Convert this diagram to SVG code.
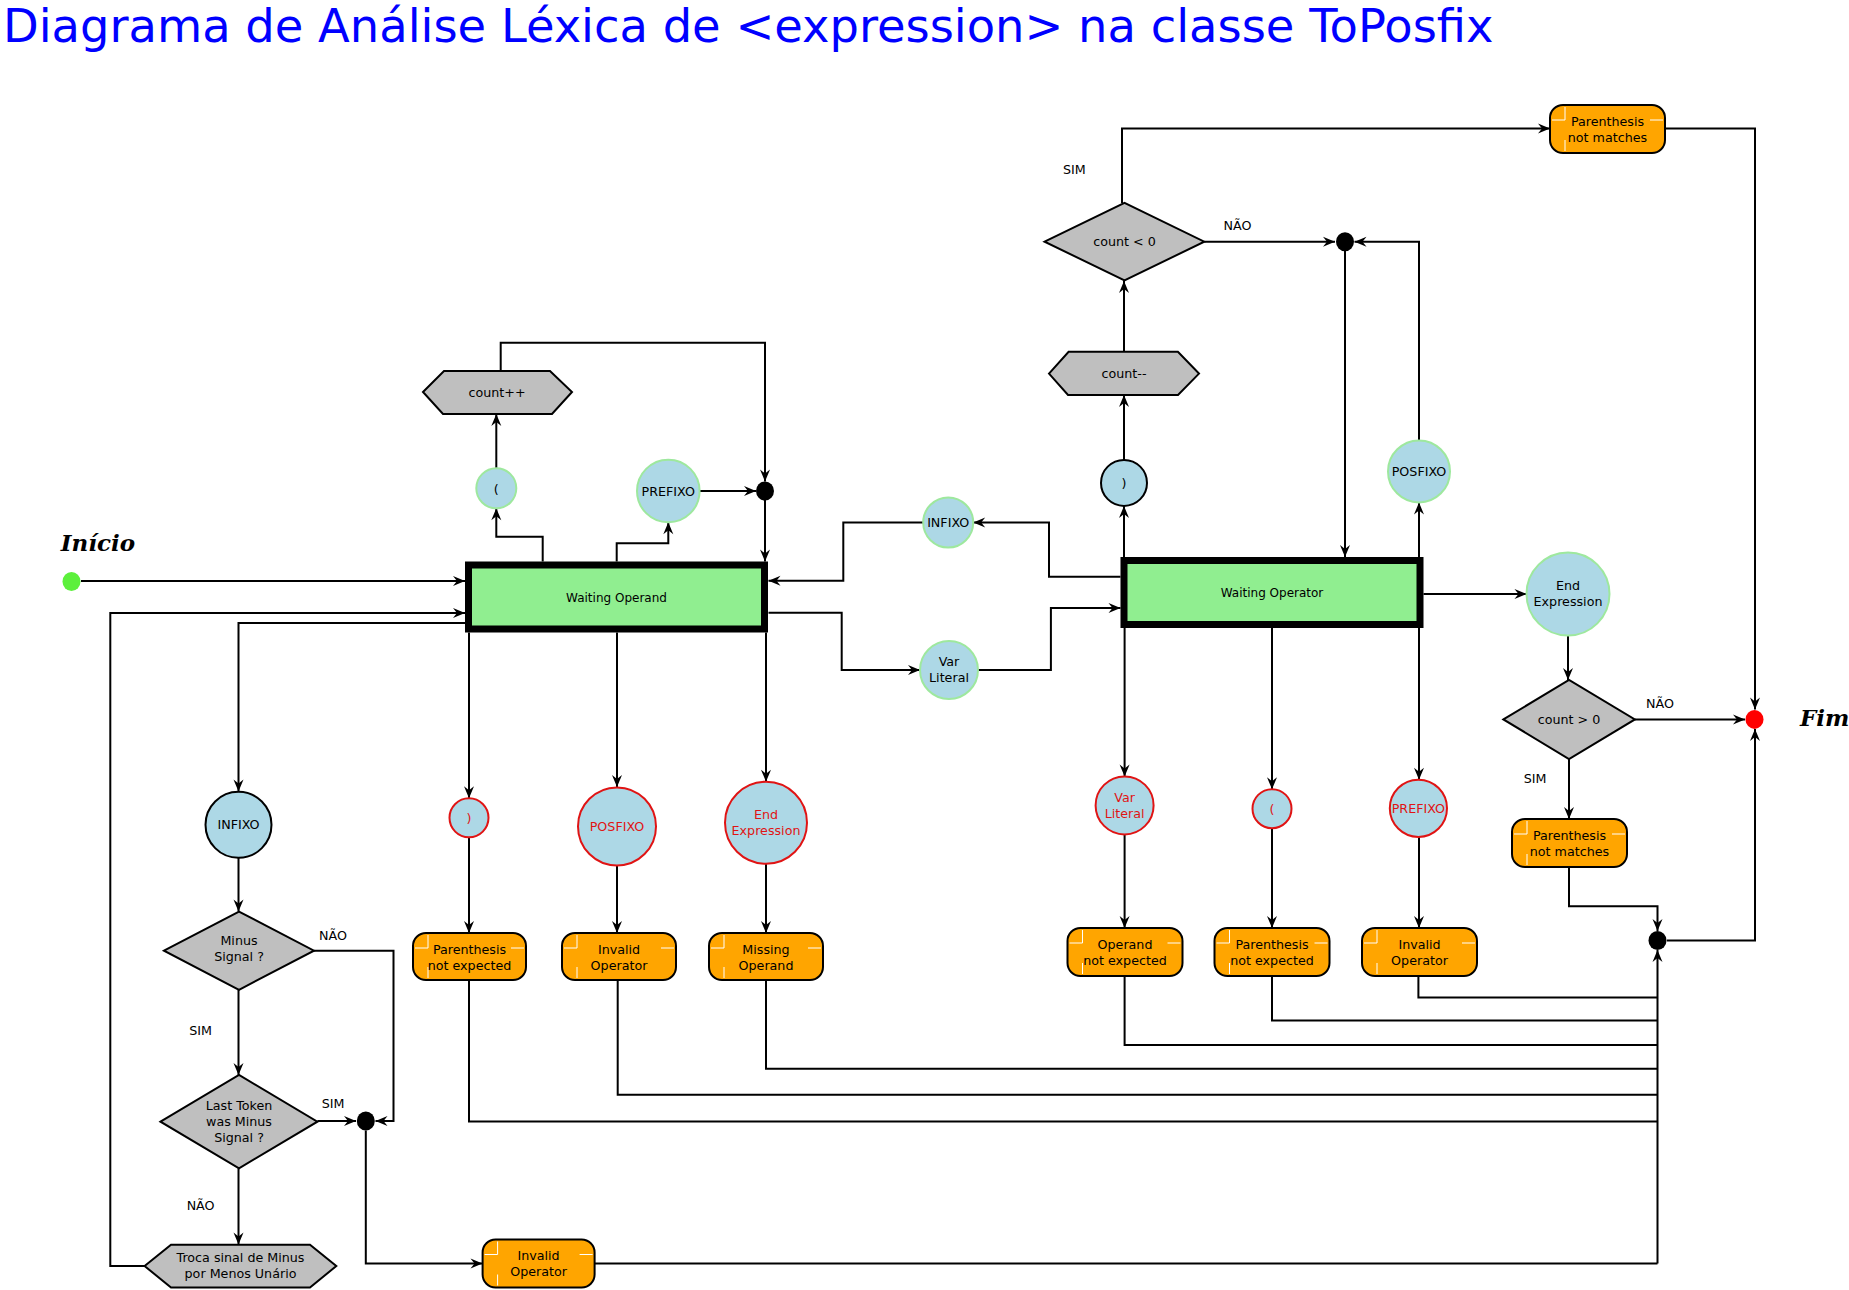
<svg xmlns="http://www.w3.org/2000/svg" xmlns:xlink="http://www.w3.org/1999/xlink" width="1849" height="1290" viewBox="0 0 1849 1290">
<defs>
<marker id="ah" markerUnits="userSpaceOnUse" markerWidth="14" markerHeight="12" refX="12" refY="5" orient="auto" overflow="visible">
<path d="M0,0 L12,5 L0,10 L4,5 z" fill="#000"/>
</marker>
<style>
.c{fill:none;stroke:#000;stroke-width:2;marker-end:url(#ah)}
.f{fill:none;stroke:#000;stroke-width:2}
.t{font-family:"DejaVu Sans","Liberation Sans",sans-serif;font-size:12.7px;fill:#000;text-anchor:middle}
.tr{fill:#e01414}
.ts{font-family:"DejaVu Sans","Liberation Sans",sans-serif;font-size:12px;fill:#000;text-anchor:middle}
.st{fill:#90ee90;stroke:#000;stroke-width:7}
.cg{fill:#add8e6;stroke:#9ee89e;stroke-width:2}
.cr{fill:#add8e6;stroke:#e01414;stroke-width:2}
.cb{fill:#add8e6;stroke:#000;stroke-width:2}
.gr{fill:#bfbfbf;stroke:#000;stroke-width:2}
.or{fill:#ffa500;stroke:#000;stroke-width:2}
.dk{fill:none;stroke:#fff;stroke-width:1}
.lb{font-family:"DejaVu Serif","Liberation Serif",serif;font-size:23px;font-weight:bold;font-style:italic;fill:#000}
</style>
</defs>
<rect width="1849" height="1290" fill="#fff"/>
<text x="3" y="42" font-family="DejaVu Sans, Liberation Sans, sans-serif" font-size="46.4" fill="#0000ff">Diagrama de Análise Léxica de &lt;expression&gt; na classe ToPosfix</text>

<g id="connectors">
<polyline class="c" points="81,581 465,581"/>
<polyline class="c" points="144.6,1266 110.3,1266 110.3,613 465,613"/>
<polyline class="c" points="465,623 238.5,623 238.5,791.5"/>
<polyline class="c" points="238.5,858 238.5,911.5"/>
<polyline class="c" points="238.5,990 238.5,1075"/>
<polyline class="c" points="238.5,1168.3 238.5,1244.5"/>
<polyline class="c" points="314,950.7 393.5,950.7 393.5,1121 375.5,1121"/>
<polyline class="c" points="317.4,1121 356,1121"/>
<polyline class="c" points="365.8,1130.5 365.8,1263.4 482.5,1263.4"/>
<polyline class="f" points="594.7,1263.4 1657.5,1263.4"/>
<polyline class="c" points="1657.5,1263.4 1657.5,950"/>
<polyline class="c" points="469,632.5 469,798.3"/>
<polyline class="c" points="469,837.3 469,933"/>
<polyline class="c" points="617,632.5 617,787"/>
<polyline class="c" points="617,865.5 617,933"/>
<polyline class="c" points="766,632.5 766,781.7"/>
<polyline class="c" points="766,863.7 766,933"/>
<polyline class="f" points="469,980 469,1121.4 1657.5,1121.4"/>
<polyline class="f" points="617.7,980 617.7,1094.7 1657.5,1094.7"/>
<polyline class="f" points="766,980 766,1068.7 1657.5,1068.7"/>
<polyline class="c" points="542.7,561.5 542.7,536.7 496.3,536.7 496.3,508.3"/>
<polyline class="c" points="496.3,468.3 496.3,414"/>
<polyline class="c" points="500.7,371 500.7,342.7 765,342.7 765,481.5"/>
<polyline class="c" points="616.7,561.5 616.7,543.3 668.3,543.3 668.3,522.3"/>
<polyline class="c" points="699.6,491 756,491"/>
<polyline class="c" points="765,500 765,561.5"/>
<polyline class="c" points="1120.5,576.8 1049,576.8 1049,522.5 973.2,522.5"/>
<polyline class="c" points="923.2,522.5 843.3,522.5 843.3,580.7 768.5,580.7"/>
<polyline class="c" points="768.5,612.7 841.7,612.7 841.7,670 920,670"/>
<polyline class="c" points="978,670 1050.9,670 1050.9,607.9 1120.5,607.9"/>
<polyline class="c" points="1124,557 1124,506"/>
<polyline class="c" points="1124,460 1124,395"/>
<polyline class="c" points="1124,351.8 1124,281"/>
<polyline class="c" points="1122,203 1122,128.6 1550,128.6"/>
<polyline class="c" points="1204.3,241.8 1335,241.8"/>
<polyline class="c" points="1419,440 1419,241.8 1354.5,241.8"/>
<polyline class="c" points="1345,251 1345,557"/>
<polyline class="c" points="1419,557 1419,502.5"/>
<polyline class="c" points="1665,128.6 1755,128.6 1755,709.5"/>
<polyline class="c" points="1423.5,594 1526.5,594"/>
<polyline class="c" points="1568,635.5 1568,680"/>
<polyline class="c" points="1635,719.4 1745,719.4"/>
<polyline class="c" points="1569,759 1569,819"/>
<polyline class="c" points="1569,867 1569,906.2 1657.5,906.2 1657.5,931"/>
<polyline class="c" points="1667,940.5 1755,940.5 1755,729"/>
<polyline class="c" points="1124.6,628 1124.6,776.4"/>
<polyline class="c" points="1124.6,834.4 1124.6,928"/>
<polyline class="c" points="1272,628 1272,789.2"/>
<polyline class="c" points="1272,828.2 1272,928"/>
<polyline class="c" points="1419,628 1419,779.7"/>
<polyline class="c" points="1419,837 1419,928"/>
<polyline class="f" points="1124.6,976 1124.6,1044.9 1657.5,1044.9"/>
<polyline class="f" points="1272,976 1272,1020.6 1657.5,1020.6"/>
<polyline class="f" points="1418.4,976 1418.4,997.6 1657.5,997.6"/>
</g>

<g id="inicio">
<text class="lb" x="60.8" y="551">Início</text>
<ellipse cx="71.5" cy="581.5" rx="9" ry="9.5" fill="#5cf03c"/>
</g>
<g id="fim">
<ellipse cx="1754.5" cy="719.4" rx="9" ry="9.5" fill="#ff0000"/>
<text class="lb" x="1800" y="726">Fim</text>
</g>

<g id="waiting-operand">
<rect class="st" x="468.5" y="565" width="296" height="64"/>
<text class="ts" x="616.5" y="601.5">Waiting Operand</text>
</g>
<g id="waiting-operator">
<rect class="st" x="1124" y="560.5" width="296" height="64"/>
<text class="ts" x="1272" y="597">Waiting Operator</text>
</g>

<g id="open-par-1"><circle class="cg" cx="496.3" cy="488.3" r="20"/><text class="t" x="496.3" y="492.8">(</text></g>
<g id="count-inc"><polygon class="gr" points="423,392 444,371 550,371 572,392 552,414 443,414"/><text class="t" x="497" y="396.5">count++</text></g>
<g id="prefixo-1"><circle class="cg" cx="668.3" cy="491" r="31.3"/><text class="t" x="668.3" y="495.5">PREFIXO</text></g>
<g id="junction-1"><ellipse cx="765" cy="491" rx="9" ry="9.5" fill="#000"/></g>

<g id="infixo-mid"><circle class="cg" cx="948.2" cy="522.5" r="25"/><text class="t" x="948.2" y="527">INFIXO</text></g>
<g id="var-literal-mid"><circle class="cg" cx="949" cy="670" r="29"/><text class="t" x="949" y="666">Var</text><text class="t" x="949" y="682">Literal</text></g>

<g id="close-par-2"><circle class="cb" cx="1124" cy="482.9" r="23"/><text class="t" x="1124" y="487.4">)</text></g>
<g id="count-dec"><polygon class="gr" points="1049,373.6 1068.6,351.8 1177.9,351.8 1199,373.6 1178,395 1068,395"/><text class="t" x="1124" y="378">count--</text></g>
<g id="count-lt-0"><polygon class="gr" points="1044.6,241.7 1124.5,202.9 1204.3,241.7 1124.5,280.4"/><text class="t" x="1124.5" y="246">count &lt; 0</text></g>
<g id="junction-2"><ellipse cx="1345" cy="241.8" rx="9" ry="9.5" fill="#000"/></g>
<g id="posfixo-2"><circle class="cg" cx="1419" cy="471.4" r="31"/><text class="t" x="1419" y="475.9">POSFIXO</text></g>
<g id="paren-not-matches-1">
<rect class="or" x="1550" y="105" width="115" height="48" rx="13"/>
<path class="dk" d="M1565,107V120M1552,120H1565M1565,140V151M1650,120H1663"/>
<text class="t" x="1607.5" y="126">Parenthesis</text><text class="t" x="1607.5" y="142">not matches</text>
</g>

<g id="end-expression-2"><circle class="cg" cx="1568" cy="594" r="41.5"/><text class="t" x="1568" y="589.5">End</text><text class="t" x="1568" y="606">Expression</text></g>
<g id="count-gt-0"><polygon class="gr" points="1503.4,719.4 1569,680 1634.9,719.4 1569,759"/><text class="t" x="1569" y="724">count &gt; 0</text></g>
<g id="paren-not-matches-2">
<rect class="or" x="1512" y="819" width="115" height="48" rx="13"/>
<path class="dk" d="M1527,821V834M1514,834H1527M1527,854V865M1612,834H1625"/>
<text class="t" x="1569.5" y="840">Parenthesis</text><text class="t" x="1569.5" y="856">not matches</text>
</g>
<g id="junction-4"><ellipse cx="1657.5" cy="940.5" rx="9" ry="9.5" fill="#000"/></g>

<g id="var-literal-err"><circle class="cr" cx="1124.6" cy="805.4" r="29"/><text class="t tr" x="1124.6" y="801.5">Var</text><text class="t tr" x="1124.6" y="817.5">Literal</text></g>
<g id="open-par-err"><circle class="cr" cx="1272" cy="808.7" r="19.5"/><text class="t tr" x="1272" y="813.2">(</text></g>
<g id="prefixo-err"><circle class="cr" cx="1418.4" cy="808.3" r="28.6"/><text class="t tr" x="1418.4" y="812.8">PREFIXO</text></g>
<g id="operand-not-expected">
<rect class="or" x="1067.5" y="928" width="115" height="48" rx="13"/>
<path class="dk" d="M1082.5,930V943M1069.5,943H1082.5M1082.5,963V974M1167.5,943H1180.5"/>
<text class="t" x="1125" y="949">Operand</text><text class="t" x="1125" y="965">not expected</text>
</g>
<g id="paren-not-expected-2">
<rect class="or" x="1214.5" y="928" width="115" height="48" rx="13"/>
<path class="dk" d="M1229.5,930V943M1216.5,943H1229.5M1229.5,963V974M1314.5,943H1327.5"/>
<text class="t" x="1272" y="949">Parenthesis</text><text class="t" x="1272" y="965">not expected</text>
</g>
<g id="invalid-operator-2">
<rect class="or" x="1362" y="928" width="115" height="48" rx="13"/>
<path class="dk" d="M1377,930V943M1364,943H1377M1377,963V974M1462,943H1475"/>
<text class="t" x="1419.5" y="949">Invalid</text><text class="t" x="1419.5" y="965">Operator</text>
</g>

<g id="close-par-err"><circle class="cr" cx="469" cy="817.8" r="19.5"/><text class="t tr" x="469" y="822.3">)</text></g>
<g id="posfixo-err"><circle class="cr" cx="617" cy="826.4" r="39"/><text class="t tr" x="617" y="830.9">POSFIXO</text></g>
<g id="end-expression-err"><circle class="cr" cx="766" cy="822.7" r="41"/><text class="t tr" x="766" y="818.5">End</text><text class="t tr" x="766" y="834.5">Expression</text></g>
<g id="paren-not-expected-1">
<rect class="or" x="413" y="933" width="113" height="47" rx="13"/>
<path class="dk" d="M428,935V948M415,948H428M428,967V978M511,948H524"/>
<text class="t" x="469.5" y="953.5">Parenthesis</text><text class="t" x="469.5" y="969.5">not expected</text>
</g>
<g id="invalid-operator-1">
<rect class="or" x="562" y="933" width="114" height="47" rx="13"/>
<path class="dk" d="M577,935V948M564,948H577M577,967V978M661,948H674"/>
<text class="t" x="619" y="953.5">Invalid</text><text class="t" x="619" y="969.5">Operator</text>
</g>
<g id="missing-operand">
<rect class="or" x="709" y="933" width="114" height="47" rx="13"/>
<path class="dk" d="M724,935V948M711,948H724M724,967V978M808,948H821"/>
<text class="t" x="766" y="953.5">Missing</text><text class="t" x="766" y="969.5">Operand</text>
</g>

<g id="infixo-left"><circle class="cb" cx="238.5" cy="824.8" r="33"/><text class="t" x="238.5" y="829.3">INFIXO</text></g>
<g id="minus-signal"><polygon class="gr" points="164,950.7 239,911.6 314,950.7 239,989.8"/><text class="t" x="239" y="945">Minus</text><text class="t" x="239" y="961">Signal ?</text></g>
<g id="last-token"><polygon class="gr" points="160.5,1121.7 239,1075 317.4,1121.7 239,1168.3"/><text class="t" x="239" y="1110">Last Token</text><text class="t" x="239" y="1126">was Minus</text><text class="t" x="239" y="1142">Signal ?</text></g>
<g id="troca-sinal"><polygon class="gr" points="144.6,1266 171,1244.8 310,1244.8 336.3,1266 310,1287.6 171,1287.6"/><text class="t" x="240.5" y="1262">Troca sinal de Minus</text><text class="t" x="240.5" y="1278">por Menos Unário</text></g>
<g id="junction-3"><ellipse cx="365.8" cy="1121" rx="9" ry="9.5" fill="#000"/></g>
<g id="invalid-operator-3">
<rect class="or" x="482.6" y="1239.5" width="112" height="48" rx="13"/>
<path class="dk" d="M497.6,1241.5V1254.5M484.6,1254.5H497.6M497.6,1274.5V1285.5M579.6,1254.5H592.6"/>
<text class="t" x="538.6" y="1259.5">Invalid</text><text class="t" x="538.6" y="1276">Operator</text>
</g>

<g id="labels">
<text class="t" x="1074.3" y="174">SIM</text>
<text class="t" x="1237.5" y="230">NÃO</text>
<text class="t" x="333" y="940">NÃO</text>
<text class="t" x="200.6" y="1035">SIM</text>
<text class="t" x="333" y="1107.5">SIM</text>
<text class="t" x="200.6" y="1209.5">NÃO</text>
<text class="t" x="1660" y="707.8">NÃO</text>
<text class="t" x="1535" y="783">SIM</text>
</g>
</svg>
